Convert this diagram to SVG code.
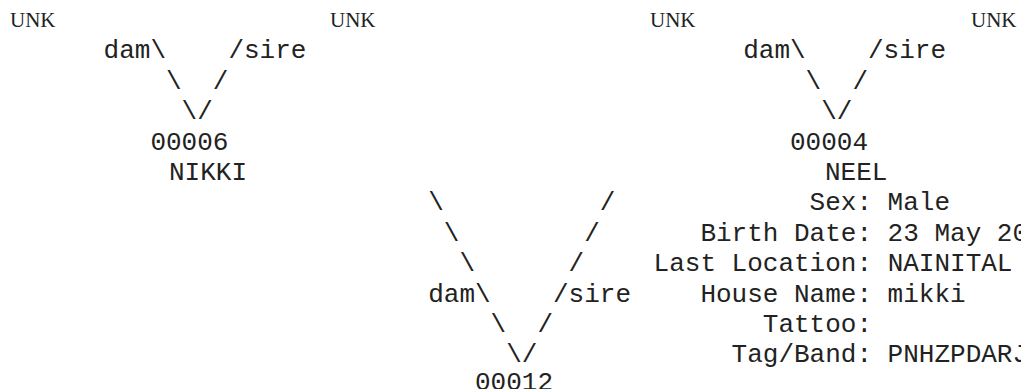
<svg xmlns="http://www.w3.org/2000/svg" width="1021" height="389" viewBox="0 0 1021 389">
<style>
text{fill:#222;white-space:pre}
.m{font-family:"Liberation Mono","Courier New",monospace;font-size:26px}
.s{font-family:"Liberation Serif","Times New Roman",serif;font-size:21px}
</style>
<rect width="1021" height="389" fill="#fff"/>
<g id="unk-dam-00006"><text class="s" x="10" y="26.5">UNK</text></g>
<g id="unk-sire-00006"><text class="s" x="330" y="26.5">UNK</text></g>
<g id="unk-dam-00004"><text class="s" x="650" y="26.5">UNK</text></g>
<g id="unk-sire-00004"><text class="s" x="971" y="26.5">UNK</text></g>
<g id="connectors" class="m">
<text x="103.6" y="58.4" xml:space="preserve">dam\    /sire</text>
<text x="166" y="88.8" xml:space="preserve">\  /</text>
<text x="181.6" y="119.2">\/</text>
<text x="743.2" y="58.4" xml:space="preserve">dam\    /sire</text>
<text x="805.6" y="88.8" xml:space="preserve">\  /</text>
<text x="821.2" y="119.2">\/</text>
<text x="428.2" y="210.4">\</text>
<text x="599.8" y="210.4">/</text>
<text x="443.8" y="240.8">\</text>
<text x="584.2" y="240.8">/</text>
<text x="459.4" y="271.2">\</text>
<text x="568.6" y="271.2">/</text>
<text x="428.2" y="301.6" xml:space="preserve">dam\    /sire</text>
<text x="490.6" y="332" xml:space="preserve">\  /</text>
<text x="506.2" y="362.4">\/</text>
</g>
<g id="node-00006" class="m">
<text x="150.4" y="149.6">00006</text>
<text x="169" y="180">NIKKI</text>
</g>
<g id="node-00004" class="m">
<text x="790" y="149.6">00004</text>
<text x="825" y="180">NEEL</text>
<text x="809.6" y="210.4">Sex: Male</text>
<text x="700.4" y="240.8">Birth Date: 23 May 20</text>
<text x="653.6" y="271.2">Last Location: NAINITAL</text>
<text x="700.4" y="301.6">House Name: mikki</text>
<text x="762.8" y="332">Tattoo:</text>
<text x="731.6" y="362.4">Tag/Band: PNHZPDARJ</text>
</g>
<g id="node-00012" class="m">
<text x="475" y="390">00012</text>
</g>
</svg>
